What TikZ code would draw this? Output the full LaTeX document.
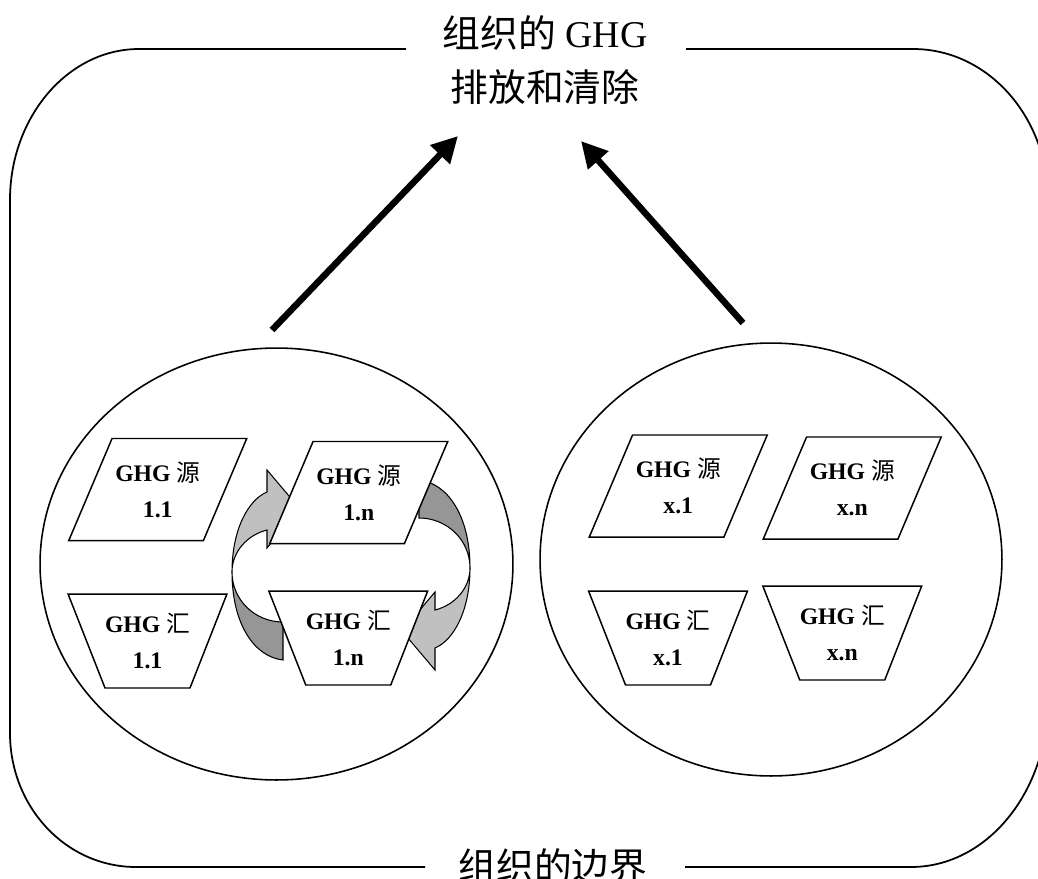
\documentclass[tikz,border=0pt]{standalone}
\usepackage{fontspec}
\setmainfont{Liberation Serif}
\newfontfamily\cjk{Noto Sans CJK SC}
\usepackage{tikz}
\usetikzlibrary{arrows.meta,shapes.geometric,positioning}
\definecolor{cyclight}{RGB}{192,192,192}
\definecolor{cycdark}{RGB}{150,150,150}
\newcommand{\zh}[1]{{\cjk\mdseries #1}}
\tikzstyle{arrow} = [line width=3.7pt,-{Triangle[length=0.52cm,width=0.52cm]}]
\tikzstyle{border} = [line width=1pt]
\tikzstyle{groupcirc} = [ellipse, draw, line width=0.9pt, inner sep=0pt]
\tikzstyle{srcbox} = [trapezium, trapezium left angle=67, trapezium right angle=113, trapezium stretches body, minimum width=3.56cm, minimum height=2.04cm, inner xsep=0pt, inner ysep=0.46cm, draw, fill=white, line width=0.85pt, align=center, font=\bfseries\fontsize{13.5}{20.5}\selectfont]
\tikzstyle{sinkbox} = [trapezium, trapezium left angle=111.5, trapezium right angle=111.5, trapezium stretches body, minimum width=3.06cm, minimum height=1.88cm, inner xsep=0pt, inner ysep=0.38cm, draw, fill=white, line width=0.85pt, align=center, font=\bfseries\fontsize{13.5}{20.5}\selectfont]
\tikzstyle{cycpart} = [draw, line width=0.6pt]
\tikzstyle{bigtext} = [font=\fontsize{21.5}{31}\selectfont, align=center]
\begin{document}
\begin{tikzpicture}[x=0.02cm, y=-0.02cm]
\useasboundingbox (0,0) rectangle (1038,879);
% Organisation boundary
\node[bigtext] (title) at (545,60) {\zh{组织的} GHG\\\zh{排放和清除}};
\node[bigtext] (bound) at (553,866) {\zh{组织的边界}};
\draw[border] (406,49) -- (139,49) .. controls (68,49) and (10,117) .. (10,200) -- (10,733) .. controls (10,807) and (66,867) .. (136,867) -- (425,867);
\draw[border] (686,49) -- (913,49) .. controls (988,49) and (1048,117) .. (1048,200) -- (1048,700) .. controls (1048,792) and (987,867) .. (911,867) -- (685,867);

% Groups of sources and sinks
\node[groupcirc, minimum width=9.46cm, minimum height=8.64cm] (grp1) at (276.5,564) {};
\node[groupcirc, minimum width=9.24cm, minimum height=8.66cm] (grpx) at (771,559.5) {};

% Cycle arrows round source 1.n and sink 1.n
\foreach \rot in {0,180} {
  \begin{scope}[rotate around={\rot:(351,570)}]
    \filldraw[cycpart, fill=cyclight] (232,572) .. controls (232,530) and (248,500) .. (267,492) -- (267,470) -- (300,509) -- (267,548) -- (267,530) .. controls (247,535) and (232,552) .. (232,572) -- cycle;
    \filldraw[cycpart, fill=cycdark] (232,572) .. controls (232,625) and (255,657) .. (283,660) -- (283,622) .. controls (255,622) and (232,600) .. (232,572) -- cycle;
  \end{scope}
}

% Sources and sinks
\node[srcbox] (src11) at (157.75,489.5) {GHG \zh{源}\\1.1};
\node[srcbox] (src1n) at (358.75,492.5) {GHG \zh{源}\\1.n};
\node[sinkbox] (snk11) at (147.5,641) {GHG \zh{汇}\\1.1};
\node[sinkbox] (snk1n) at (348.25,638) {GHG \zh{汇}\\1.n};
\node[srcbox] (srcx1) at (678.25,486) {GHG \zh{源}\\x.1};
\node[srcbox] (srcxn) at (852.25,488) {GHG \zh{源}\\x.n};
\node[sinkbox] (snkx1) at (668,638) {GHG \zh{汇}\\x.1};
\node[sinkbox] (snkxn) at (842.25,633) {GHG \zh{汇}\\x.n};

% Emissions and removals
\coordinate (out1) at (272,330);
\coordinate (in1) at (458,136);
\coordinate (outx) at (743,323);
\coordinate (inx) at (581,141);
\draw[arrow] (out1) -- (in1);
\draw[arrow] (outx) -- (inx);
\end{tikzpicture}
\end{document}
